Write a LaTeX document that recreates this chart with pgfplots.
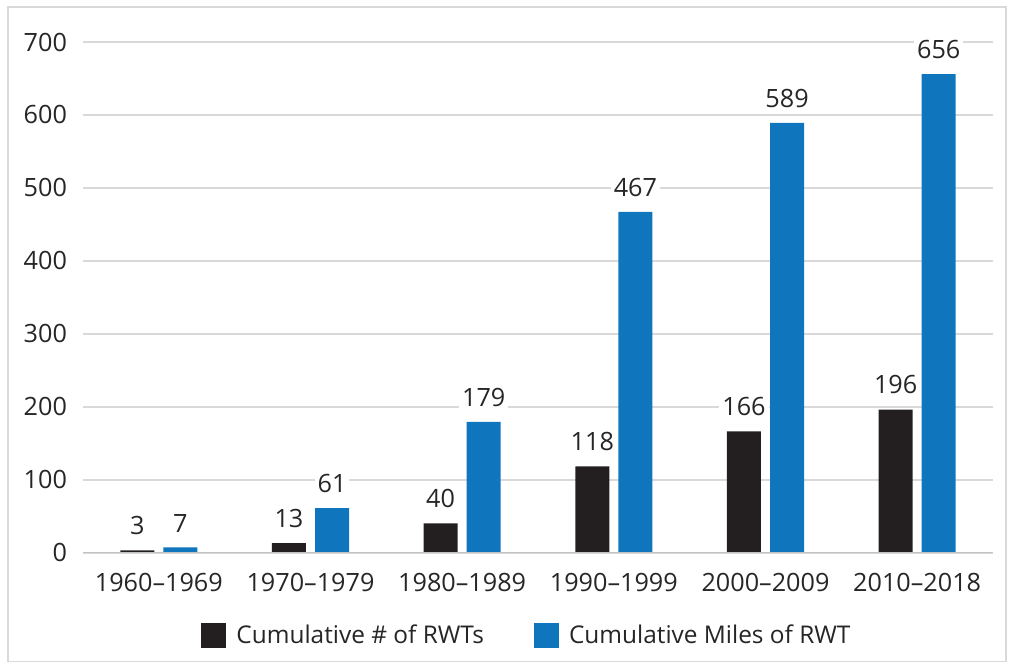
\documentclass[border=0pt]{standalone}
\usepackage{pgfplots}
\pgfplotsset{compat=1.18}
\usepackage{fontspec}
\setmainfont{Open Sans}
\definecolor{barblack}{HTML}{231F20}
\definecolor{barblue}{HTML}{0F75BC}
\definecolor{gridgray}{HTML}{D9D9D9}
\begin{document}
\begin{tikzpicture}
\useasboundingbox (-41.5pt,-56.75pt) rectangle (465.5pt,276.25pt);
\draw[gridgray, line width=0.6pt] (-37.5pt,-54.5pt) rectangle (461.5pt,272.75pt);
\begin{axis}[
  at={(0,0)}, anchor=south west,
  scale only axis, width=455pt, height=255.25pt,
  ybar, bar width=0.224,
  xmin=-0.5, xmax=5.5, ymin=0, ymax=700,
  ytick={0,100,...,700},
  xtick=data,
  xticklabels={1960--1969,1970--1979,1980--1989,1990--1999,2000--2009,2010--2018},
  axis line style={draw=none},
  axis x line*=bottom,
  ymajorgrids, grid style={gridgray, line width=1pt},
  major tick length=0pt,
  tick label style={font=\fontsize{12.6}{15}\selectfont, text=black!85},
  yticklabel style={xshift=-4.5pt},
  xticklabel style={yshift=-7pt},
  /pgf/number format/assume math mode=true,
  nodes near coords,
  every node near coord/.append style={font=\fontsize{12.6}{15}\selectfont, text=black!85, fill=white, inner sep=1.5pt, yshift=6pt},
  legend style={at={(0.489,-0.125)}, anchor=north, draw=none, font=\fontsize{12.2}{15}\selectfont, text=black!85,
    /tikz/every even column/.append style={column sep=23pt}},
  legend columns=2,
  legend image code/.code={\fill[#1] (0pt,-6pt) rectangle (12.5pt,6.5pt); \path (15.5pt,0pt);},
]
\addplot[fill=barblack, draw=none, bar shift=-0.142] coordinates {(0,3) (1,13) (2,40) (3,118) (4,166) (5,196)};
\addplot[fill=barblue, draw=none, bar shift=0.142] coordinates {(0,7) (1,61) (2,179) (3,467) (4,589) (5,656)};
\legend{Cumulative \# of RWTs, Cumulative Miles of RWT}
\draw[gridgray!90!black, line width=1pt] (axis cs:-0.5,0) -- (axis cs:5.5,0);
\end{axis}
\end{tikzpicture}
\end{document}
